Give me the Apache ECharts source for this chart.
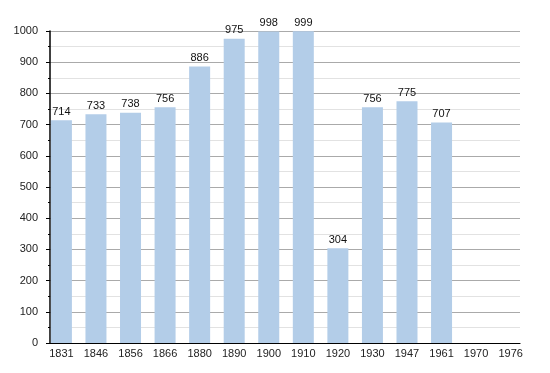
<!DOCTYPE html>
<html><head><meta charset="utf-8">
<script src="https://cdn.jsdelivr.net/npm/echarts@6/dist/echarts.min.js"></script>
<style>html,body{margin:0;padding:0;background:#fff}#c{width:550px;height:373px}</style>
</head><body><div id="c"></div>
<script>
var years = ['1831','1846','1856','1866','1880','1890','1900','1910','1920','1930','1947','1961','1970','1976'];
var population = [714,733,738,756,886,975,998,999,304,756,775,707,null,null];
var yTicks = [0,100,200,300,400,500,600,700,800,900,1000];

var chart = echarts.init(document.getElementById('c'), null, {renderer:'canvas'});
var font = 'Liberation Sans, Arial, sans-serif';
var idx = years.map(function(_, i){ return i; });
chart.setOption({
  animation:false,
  grid:{left:50, right:30, top:31, bottom:30, containLabel:false},
  xAxis:{
    type:'value', min:-0.33, max:13.27,
    axisLine:{show:true, onZero:false, lineStyle:{color:'#000', width:1.2}},
    axisTick:{show:false},
    splitLine:{show:false},
    axisLabel:{customValues:idx, formatter:function(v){ return years[Math.round(v)]; },
      color:'#222', fontFamily:font, fontSize:11, margin:5}
  },
  yAxis:{
    type:'value', min:0, max:1000, interval:100, position:'left',
    axisLine:{show:true, onZero:false, lineStyle:{color:'#000', width:1.5}},
    axisTick:{show:true, length:4, lineStyle:{color:'#000'}},
    minorTick:{show:true, splitNumber:2, length:2, lineStyle:{color:'#000'}},
    splitLine:{show:true, lineStyle:{color:'#aaaaaa', width:1}},
    minorSplitLine:{show:true, lineStyle:{color:'#e2e2e2', width:1}},
    axisLabel:{color:'#222', fontFamily:font, fontSize:11, margin:12,
      customValues:yTicks, formatter:function(v){ return String(v); }}
  },
  series:[{
    type:'bar', barWidth:21,
    data: population.map(function(v,i){ return [i, v]; }),
    itemStyle:{color:'#b3cde8'},
    label:{show:true, position:'top', distance:3, color:'#111', fontFamily:font, fontSize:11,
      formatter:function(p){ return p.value[1]; }}
  }]
});
</script></body></html>
